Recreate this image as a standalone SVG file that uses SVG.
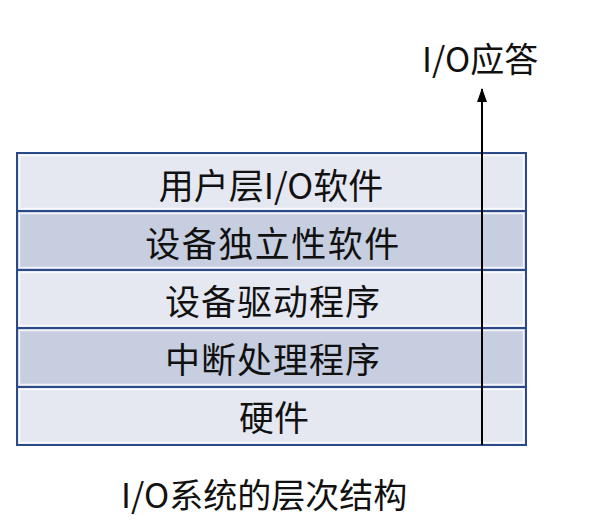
<svg xmlns="http://www.w3.org/2000/svg" width="602" height="524" viewBox="0 0 602 524">
<defs>
<style>
.light{fill:#e5e8f1;}
.dark{fill:#c6cee0;}
.border{fill:none;stroke:#2c4a87;stroke-width:2;}
.inner{fill:none;stroke:#ffffff;stroke-width:1.5;opacity:0.8;}
.lbl{font-family:"Noto Sans CJK SC","Noto Sans",sans-serif;font-size:35px;fill:#111;text-anchor:middle;dominant-baseline:central;}
.cap{font-family:"Noto Sans CJK SC","Noto Sans",sans-serif;font-size:34px;fill:#111;}
</style>
<marker id="ah" viewBox="0 0 14 10" refX="13" refY="5" markerWidth="14" markerHeight="10" markerUnits="userSpaceOnUse" orient="auto">
<path d="M0,0 L14,5 L0,10 Z" fill="#000"/>
</marker>
</defs>
<rect width="602" height="524" fill="#ffffff"/>
<g id="row1">
<rect class="light" x="17" y="153" width="509" height="58"/>
<rect class="inner" x="19.5" y="155.5" width="504" height="53"/>
<rect class="border" x="17" y="153" width="509" height="58"/>
<text class="lbl" x="271" y="183">用户层I/O软件</text>
</g>
<g id="row2">
<rect class="dark" x="17" y="211" width="509" height="59"/>
<rect class="inner" x="19.5" y="213.5" width="504" height="54"/>
<rect class="border" x="17" y="211" width="509" height="59"/>
<text class="lbl" x="273" y="241" letter-spacing="1.5">设备独立性软件</text>
</g>
<g id="row3">
<rect class="light" x="17" y="270" width="509" height="58"/>
<rect class="inner" x="19.5" y="272.5" width="504" height="53"/>
<rect class="border" x="17" y="270" width="509" height="58"/>
<text class="lbl" x="273" y="299" letter-spacing="1">设备驱动程序</text>
</g>
<g id="row4">
<rect class="dark" x="17" y="328" width="509" height="59"/>
<rect class="inner" x="19.5" y="330.5" width="504" height="54"/>
<rect class="border" x="17" y="328" width="509" height="59"/>
<text class="lbl" x="273" y="357" letter-spacing="1">中断处理程序</text>
</g>
<g id="row5">
<rect class="light" x="17" y="387" width="509" height="58"/>
<rect class="inner" x="19.5" y="389.5" width="504" height="53"/>
<rect class="border" x="17" y="387" width="509" height="58"/>
<text class="lbl" x="274" y="415">硬件</text>
</g>
<g id="connectors">
<line x1="482" y1="445" x2="482" y2="89" stroke="#000" stroke-width="2" marker-end="url(#ah)"/>
</g>
<g id="label-response">
<text class="cap" x="422" y="72">I/O应答</text>
</g>
<g id="caption">
<text class="cap" x="121" y="508">I/O系统的层次结构</text>
</g>
</svg>
